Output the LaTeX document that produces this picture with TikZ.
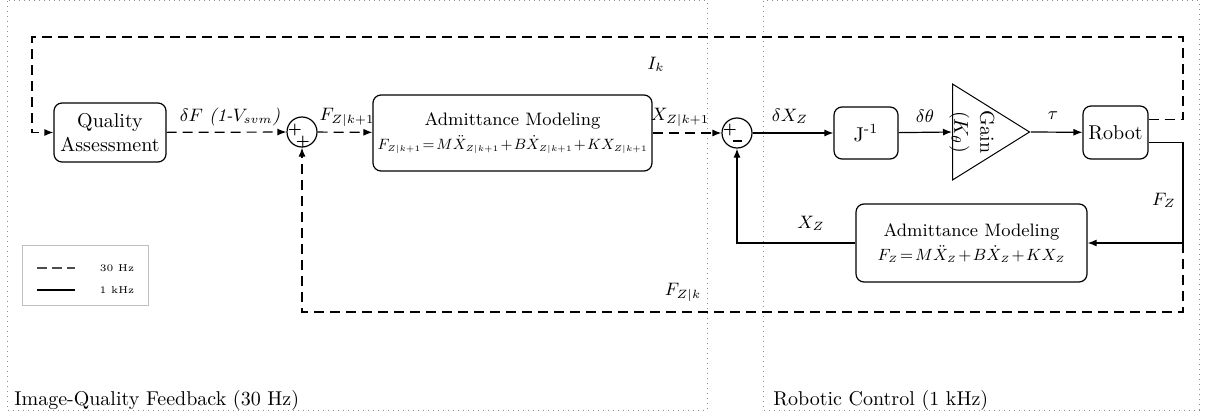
\documentclass[tikz,border=0pt]{standalone}
\usepackage{amsmath,amssymb}
\usepackage{graphicx}
\usepackage{tikz}
\usetikzlibrary{positioning,arrows.meta,shapes,calc}

\newcommand{\fiteq}[2]{\resizebox{#1}{!}{$\thickmuskip=2mu\medmuskip=1.5mu #2$}}
\newcommand{\zk}{{\scriptscriptstyle Z|k+1}}
\newcommand{\zz}{{\scriptscriptstyle Z}}

\begin{document}
\begin{tikzpicture}[
    x=0.5pt, y=-0.5pt,
    >={Latex[length=4.5pt,width=3.5pt]},
    block/.style    = {rectangle, rounded corners=4pt, draw=black, line width=0.6pt,
                       align=center, inner sep=1pt},
    admit/.style    = {block, font=\small, inner sep=0pt},
    sumnode/.style  = {circle, draw=black, line width=0.6pt, minimum size=15pt,
                       inner sep=0pt},
    gainnode/.style = {isosceles triangle, isosceles triangle stretches,
                       draw=black, line width=0.5pt, minimum width=48pt,
                       minimum height=38.5pt, inner sep=0pt},
    sign/.style     = {font=\scriptsize\bfseries, inner sep=0pt},
    sig/.style      = {font=\small, inner sep=1pt},
    fast/.style     = {->, line width=0.6pt},
    slow/.style     = {->, line width=0.6pt, dash pattern=on 5pt off 3pt},
    region/.style   = {draw=black!45, dotted, line width=0.5pt},
    regtitle/.style = {anchor=base west, inner sep=0pt},
    legbox/.style   = {rectangle, draw=black!25, line width=0.4pt,
                       minimum width=63pt, minimum height=30pt},
    legtext/.style  = {font=\tiny, inner sep=0pt},
]
\useasboundingbox (0,0) rectangle (1209,417);

% =============================== regions ======================================
\draw[region] (7,1) rectangle (707,410);
\draw[region] (763,1) rectangle (1199,410);
\node[regtitle] (tleft)  at (14,405)  {Image-Quality Feedback (30 Hz)};
\node[regtitle] (tright) at (773,405) {Robotic Control (1 kHz)};

% =============================== forward path =================================
\node[block, minimum width=56pt, minimum height=29.5pt] (qa) at (110,132.5)
     {Quality\\Assessment};
\node[sumnode] (s1) at (302,132) {};
\node[sign] at ($(s1)+(-7,-2)$) {+};
\node[sign] at ($(s1)+(1,10)$)  {+};
\node[admit, minimum width=139.5pt, minimum height=38pt] (adm1) at (512.5,133)
     {Admittance Modeling\\[1pt]
      \fiteq{135pt}{F_\zk = M\ddot{X}_\zk + B\dot{X}_\zk + KX_\zk}};
\node[sumnode] (s2) at (737,133) {};
\node[sign] at ($(s2)+(-7,-3)$) {+};
\node[sign] at ($(s2)+(0,8)$)   {\rule{4.5pt}{1.3pt}};
\node[block, minimum width=32pt, minimum height=26pt] (jinv) at (866,133)
     {J\textsuperscript{-1}};
\node[gainnode, anchor=west] (gain) at (952,132) {};
\node[rotate=-90, align=center, inner sep=0pt] (gaintxt) at (972,132)
     {Gain\\[1pt]$(K_\theta)$};
\node[block, minimum width=32.5pt, minimum height=26.5pt] (robot) at (1115.5,132.5)
     {Robot};

% =============================== feedback path ================================
\node[admit, minimum width=115.5pt, minimum height=39pt] (adm2) at (971.5,243)
     {Admittance Modeling\\[1pt]
      \fiteq{94pt}{F_\zz = M\ddot{X}_\zz + B\dot{X}_\zz + KX_\zz}};

\coordinate (ctl) at (32,37);
\coordinate (ctr) at (1183,37);
\coordinate (cmr) at (1183,243);
\coordinate (cbr) at (1183,312);
\coordinate (cbl) at (302,312);

% connectors
\draw[slow] (qa) -- (s1);
\draw[slow] (s1) -- (adm1);
\draw[slow] (adm1) -- (s2);
\draw[fast] (s2) -- (jinv);
\draw[fast] (jinv) -- (gain.west);
\draw[fast] (gain.apex) -- (robot);
\draw[slow] ($(robot.east)+(0,-13)$) -| (ctr) -- (ctl) |- (qa.west);
\draw[fast] ($(robot.east)+(0,10)$) -| (cmr) -- (adm2.east);
\draw[slow] (cmr) -- (cbr) -- (cbl) -- (s1.south);
\draw[fast] (adm2.west) -| (s2.south);

% signal labels
\node[sig] (ldf)  at (230,117) {$\delta F$ \textit{(1-$V_{svm}$)}};
\node[sig] (lfk1) at (347,117) {$F_{Z|k+1}$};
\node[sig] (lxk1) at (680,117) {$X_{Z|k+1}$};
\node[sig] (ldx)  at (790,116) {$\delta X_Z$};
\node[sig] (ldth) at (925,116) {$\delta\theta$};
\node[sig] (ltau) at (1053,116) {$\tau$};
\node[sig] (lfz)  at (1164,200) {$F_Z$};
\node[sig] (lxz)  at (811,223) {$X_Z$};
\node[sig] (lfzk) at (683,292) {$F_{Z|k}$};
\node[sig] (lik)  at (656,64)  {$I_k$};

% =============================== legend =======================================
\node[legbox] (leg) at (85,275) {};
\coordinate (la1) at (37,268);
\coordinate (lb1) at (75,268);
\coordinate (la2) at (37,290);
\coordinate (lb2) at (75,290);
\draw[line width=0.6pt, draw=black!70, dash pattern=on 5pt off 2.5pt] (la1) -- (lb1);
\draw[line width=0.6pt] (la2) -- (lb2);
\node[legtext] (l30) at (117,268) {30 Hz};
\node[legtext] (l1k) at (117,290) {1 kHz};

\end{tikzpicture}
\end{document}
